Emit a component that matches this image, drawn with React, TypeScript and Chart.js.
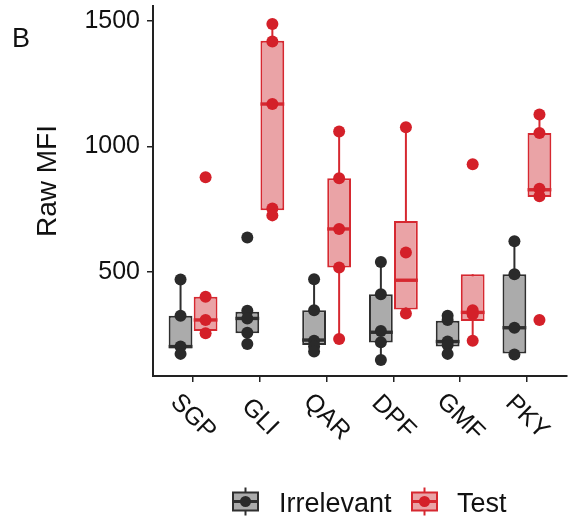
import React, { useEffect, useRef } from 'react';
import { Chart, registerables } from 'chart.js';

Chart.register(...registerables);

// ---------- data ----------
const categories = ['SGP', 'GLI', 'QAR', 'DPF', 'GMF', 'PKY'];
const yTicks = [500, 1000, 1500];

// Irrelevant group box stats
const irrLow = [175, 214, 184, 151, 175, 173];
const irrQ1 = [197, 257, 210, 220, 204, 177];
const irrMed = [204, 316, 230, 261, 224, 279];
const irrQ3 = [327, 343, 349, 412, 307, 492];
const irrHigh = [471, 347, 472, 541, 327, 623];
const irrPoints = [
  [471, 327, 204, 175],
  [638, 347, 316, 259, 214],
  [472, 349, 227, 204, 184],
  [541, 412, 266, 221, 151],
  [327, 310, 224, 210, 175],
  [623, 492, 279, 173],
];

// Test group box stats
const testLow = [257, 726, 234, 336, 227, 799];
const testQ1 = [266, 746, 519, 352, 306, 799];
const testMed = [310, 1169, 672, 468, 340, 828];
const testQ3 = [402, 1421, 874, 704, 492, 1054];
const testHigh = [402, 1487, 1060, 1077, 492, 1127];
const testPoints = [
  [878, 402, 310, 257],
  [1487, 1418, 1169, 753, 726],
  [1060, 874, 672, 519, 234],
  [1077, 578, 336],
  [929, 349, 333, 227],
  [1127, 1054, 832, 802, 310],
];

const FONT = '"Liberation Sans", Arial, Helvetica, sans-serif';
const DODGE = 0.1875;

const groups = [
  {
    label: 'Irrelevant',
    low: irrLow, q1: irrQ1, med: irrMed, q3: irrQ3, high: irrHigh, points: irrPoints,
    fill: '#ababab', stroke: '#2f2f2f', dot: '#2a2a2a', dodge: -DODGE,
  },
  {
    label: 'Test',
    low: testLow, q1: testQ1, med: testMed, q3: testQ3, high: testHigh, points: testPoints,
    fill: '#eaa3a6', stroke: '#d62830', dot: '#d42029', dodge: DODGE,
  },
];

function drawKey(ctx: CanvasRenderingContext2D, cx: number, cy: number, g: any) {
  ctx.save();
  ctx.strokeStyle = g.stroke;
  ctx.lineWidth = 2;
  ctx.beginPath();
  ctx.moveTo(cx, cy - 14);
  ctx.lineTo(cx, cy + 14);
  ctx.stroke();
  ctx.fillStyle = g.fill;
  ctx.fillRect(cx - 12.5, cy - 9, 25, 18);
  ctx.strokeRect(cx - 12.5, cy - 9, 25, 18);
  ctx.lineWidth = 3;
  ctx.beginPath();
  ctx.moveTo(cx - 12.5, cy);
  ctx.lineTo(cx + 12.5, cy);
  ctx.stroke();
  ctx.fillStyle = g.dot;
  ctx.beginPath();
  ctx.arc(cx, cy, 5.5, 0, Math.PI * 2);
  ctx.fill();
  ctx.restore();
}

const boxPlugin = {
  id: 'boxExtras',
  beforeDatasetDraw(chart: any, args: any) {
    const g = groups[args.index];
    if (!g || args.meta.type !== 'bar') return;
    const ys = chart.scales.y;
    const ctx = chart.ctx;
    ctx.save();
    ctx.strokeStyle = g.stroke;
    ctx.lineWidth = 2;
    args.meta.data.forEach((el: any, i: number) => {
      ctx.beginPath();
      ctx.moveTo(el.x, ys.getPixelForValue(g.low[i]));
      ctx.lineTo(el.x, ys.getPixelForValue(g.high[i]));
      ctx.stroke();
    });
    ctx.restore();
  },
  afterDatasetDraw(chart: any, args: any) {
    const g = groups[args.index];
    if (!g || args.meta.type !== 'bar') return;
    const ys = chart.scales.y;
    const ctx = chart.ctx;
    ctx.save();
    ctx.strokeStyle = g.stroke;
    ctx.lineWidth = 3.4;
    args.meta.data.forEach((el: any, i: number) => {
      const y = ys.getPixelForValue(g.med[i]);
      ctx.beginPath();
      ctx.moveTo(el.x - el.width / 2, y);
      ctx.lineTo(el.x + el.width / 2, y);
      ctx.stroke();
    });
    ctx.restore();
  },
  afterDraw(chart: any) {
    const ctx = chart.ctx;
    const xs = chart.scales.x;
    const area = chart.chartArea;
    ctx.save();
    ctx.fillStyle = '#111';
    // x tick labels rotated -45 (clockwise)
    ctx.font = `25px ${FONT}`;
    ctx.textAlign = 'center';
    ctx.textBaseline = 'middle';
    categories.forEach((c, i) => {
      const px = xs.getPixelForValue(i + 1);
      ctx.save();
      ctx.translate(px, area.bottom + 41);
      ctx.rotate(Math.PI / 4);
      ctx.fillText(c, 0, 0);
      ctx.restore();
    });
    // y axis title
    ctx.save();
    ctx.font = `28px ${FONT}`;
    ctx.translate(48, 181);
    ctx.rotate(-Math.PI / 2);
    ctx.fillText('Raw MFI', 0, 0);
    ctx.restore();
    // panel tag
    ctx.font = `27px ${FONT}`;
    ctx.textAlign = 'left';
    ctx.textBaseline = 'alphabetic';
    ctx.fillText('B', 12, 47);
    // legend
    ctx.font = `27px ${FONT}`;
    ctx.textBaseline = 'alphabetic';
    const keyX = [245.5, 424.5];
    const textX = [279, 457];
    groups.forEach((g, gi) => {
      drawKey(ctx, keyX[gi], 501.5, g);
      ctx.fillStyle = '#111';
      ctx.fillText(g.label, textX[gi], 512);
    });
    ctx.restore();
  },
};

export default function App() {
  const ref = useRef<HTMLCanvasElement>(null);
  useEffect(() => {
    const canvas = ref.current;
    if (!canvas) return;
    const boxDatasets = groups.map((g) => ({
      type: 'bar',
      label: g.label,
      data: categories.map((_, i) => ({ x: i + 1, y: [g.q1[i], g.q3[i]] })),
      backgroundColor: g.fill,
      borderColor: g.stroke,
      borderWidth: 2,
      borderSkipped: false,
      categoryPercentage: 0.75,
      barPercentage: 0.95,
      order: 2,
    }));
    const pointDatasets = groups.map((g) => ({
      type: 'scatter',
      label: g.label + ' points',
      data: g.points.flatMap((arr, i) => arr.map((v) => ({ x: i + 1 + g.dodge, y: v }))),
      pointRadius: 6,
      pointHoverRadius: 6,
      backgroundColor: g.dot,
      borderColor: g.dot,
      borderWidth: 0,
      order: 0,
    }));
    const chart = new Chart(canvas, {
      type: 'bar',
      data: { datasets: [...boxDatasets, ...pointDatasets] as any },
      options: {
        animation: false,
        responsive: false,
        layout: { padding: { top: 5, right: 5, left: 0, bottom: 0 } },
        plugins: { legend: { display: false }, tooltip: { enabled: false } },
        scales: {
          x: {
            type: 'linear',
            offset: false,
            min: 0.4,
            max: 6.6,
            afterBuildTicks: (s: any) => {
              s.ticks = categories.map((_, i) => ({ value: i + 1 }));
            },
            afterFit: (s: any) => {
              s.height = 153;
              s.paddingLeft = 0;
              s.paddingRight = 0;
            },
            ticks: { display: false },
            grid: {
              offset: false,
              drawOnChartArea: false,
              drawTicks: true,
              tickLength: 6,
              color: '#222',
              lineWidth: 1.5,
            },
            border: { display: true, color: '#222', width: 2 },
          },
          y: {
            type: 'linear',
            min: 87,
            max: 1559,
            afterBuildTicks: (s: any) => {
              s.ticks = yTicks.map((v) => ({ value: v }));
            },
            afterFit: (s: any) => {
              s.width = 153;
              s.paddingTop = 0;
              s.paddingBottom = 0;
            },
            ticks: {
              color: '#111',
              font: { family: FONT, size: 25 },
              padding: 7,
              callback: (v: any) => String(v),
            },
            grid: {
              drawOnChartArea: false,
              drawTicks: true,
              tickLength: 6,
              color: '#222',
              lineWidth: 1.5,
            },
            border: { display: true, color: '#222', width: 2 },
          },
        },
      },
      plugins: [boxPlugin],
    } as any);
    return () => chart.destroy();
  }, []);
  return (
    <div style={{ position: 'absolute', left: 0, top: 0, width: 573, height: 529, background: '#fff' }}>
      <canvas ref={ref} width={573} height={529} />
    </div>
  );
}
